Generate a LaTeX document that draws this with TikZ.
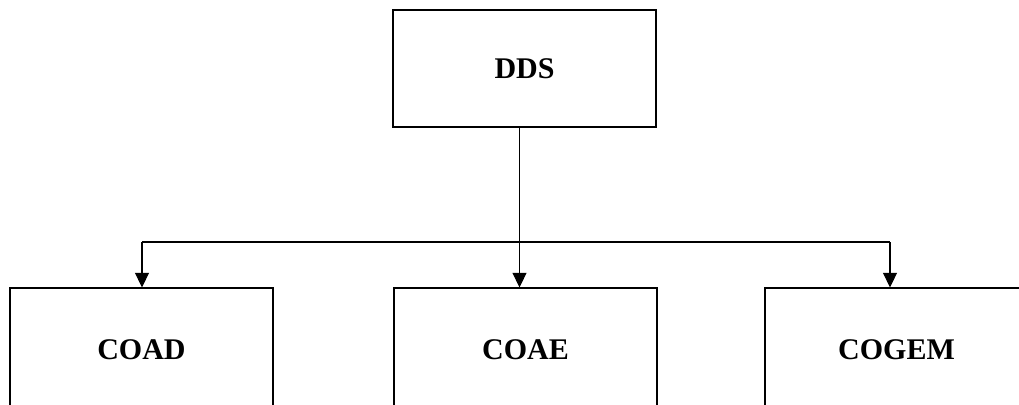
\documentclass[tikz,border=0pt]{standalone}
\usepackage{fontspec}
\setmainfont{Liberation Serif}
\usetikzlibrary{arrows.meta}
\begin{document}
\begin{tikzpicture}[x=0.75pt,y=-0.75pt,
  box/.style={draw,line width=0.8pt,rectangle,inner sep=0pt,font=\bfseries\fontsize{22.5}{27}\selectfont},
  conn/.style={line width=0.8pt},
  arr/.style={conn,-{Triangle[width=10.5pt,length=11pt]}}]
\useasboundingbox (0,0) rectangle (1019,404);
\clip (0,0) rectangle (1019,404);
\node[box,minimum width=263*0.75pt,minimum height=117*0.75pt] (dds) at (524.5,68.5) {DDS};
\node[box,minimum width=263*0.75pt,minimum height=124*0.75pt] (coad) at (141.5,350) {COAD};
\node[box,minimum width=263*0.75pt,minimum height=124*0.75pt] (coae) at (525.5,350) {COAE};
\node[box,minimum width=263*0.75pt,minimum height=124*0.75pt] (cogem) at (896.5,350) {COGEM};
\coordinate (j) at (519.5,242);
\coordinate (c1) at (142,242);
\coordinate (c3) at (890,242);
\draw[conn] (j |- dds.south) -- (j);
\draw[conn] (c1) -- (c3);
\draw[arr] (c1) -- (c1 |- coad.north);
\draw[arr] (j) -- (j |- coae.north);
\draw[arr] (c3) -- (c3 |- cogem.north);
\end{tikzpicture}
\end{document}
